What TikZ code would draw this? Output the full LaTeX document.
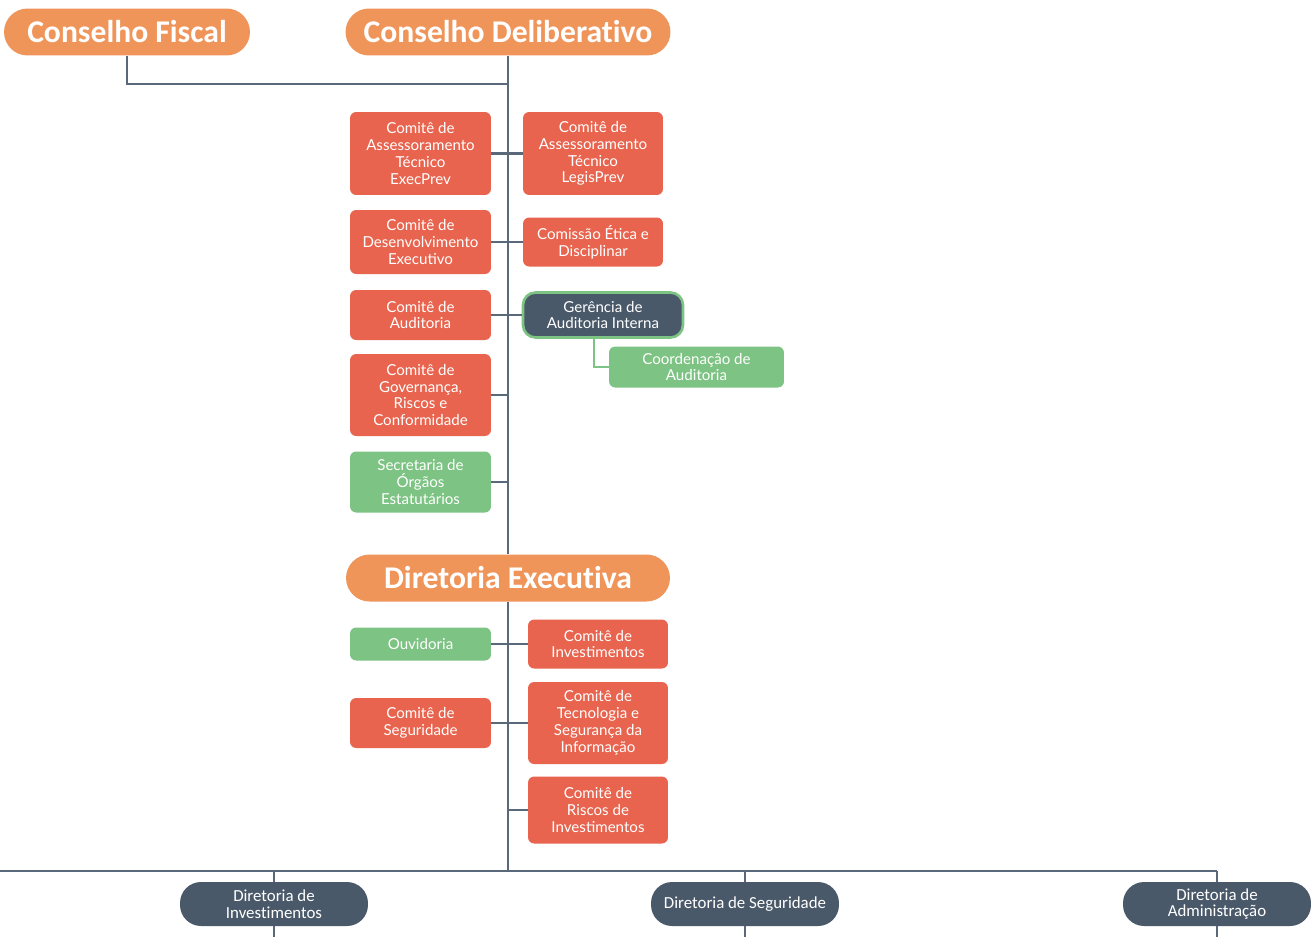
\documentclass[tikz,border=0pt]{standalone}
\usepackage{fontspec}
\setmainfont{Lato}
\newfontfamily\headfont{Carlito}[Ligatures=NoCommon]
\usetikzlibrary{positioning}
\definecolor{cfgorange}{RGB}{240,149,90}
\definecolor{cfgred}{RGB}{232,100,78}
\definecolor{cfggreen}{RGB}{125,195,131}
\definecolor{cfgslate}{RGB}{74,89,106}
\definecolor{cfgline}{RGB}{90,105,122}

\begin{document}
\begin{tikzpicture}[x=0.02cm,y=-0.02cm,
  head/.style={fill=cfgorange, text=white, rounded corners=0.47cm, minimum height=0.94cm, inner sep=0pt,
    font=\headfont\bfseries\fontsize{18}{20}\selectfont},
  com/.style={fill=cfgred, text=white, rounded corners=3.5pt, minimum width=2.82cm, align=center, inner sep=1pt,
    font=\fontsize{8.6}{9.6}\selectfont},
  sec/.style={com, fill=cfggreen},
  dir/.style={fill=cfgslate, text=white, rounded corners=0.42cm, minimum width=3.76cm, minimum height=0.88cm,
    align=center, inner sep=1pt, font=\headfont\fontsize{9.6}{9.6}\selectfont},
  link/.style={draw=cfgline, line width=1.2pt}]
\useasboundingbox (0,0) rectangle (1311,937);
% Conselhos
\node[head, minimum width=4.92cm] (cf) at (127,32) {Conselho Fiscal};
\node[head, minimum width=6.5cm] (cd) at (508,32) {Conselho Deliberativo};
% Comites do conselho
\node[com, minimum height=1.66cm] (l1) at (420.5,153.5) {Comitê de\\Assessoramento\\Técnico\\ExecPrev};
\node[com, minimum height=1.66cm, minimum width=2.8cm] (r1) at (593,153.5) {Comitê de\\Assessoramento\\Técnico\\LegisPrev};
\node[com, minimum height=1.28cm] (l2) at (420.5,242) {Comitê de\\Desenvolvimento\\Executivo};
\node[com, minimum height=0.98cm, minimum width=2.8cm] (r2) at (593,242) {Comissão Ética e\\Disciplinar};
\node[com, minimum height=1.0cm] (l3) at (420.5,315) {Comitê de\\Auditoria};
\node[com, fill=cfgslate, draw=cfggreen, line width=1.5pt, minimum height=0.9cm, minimum width=3.2cm,
  rounded corners=0.25cm] (gai) at (603,315) {Gerência de\\Auditoria Interna};
\node[sec, minimum height=0.82cm, minimum width=3.5cm] (coord) at (696.5,367) {Coordenação de\\Auditoria};
\node[com, minimum height=1.64cm] (l4) at (420.5,395) {Comitê de\\Governança,\\Riscos e\\Conformidade};
\node[sec, minimum height=1.22cm] (l5) at (420.5,482) {Secretaria de\\Órgãos\\Estatutários};
% Diretoria executiva
\node[head, minimum width=6.48cm] (de) at (508,578) {Diretoria Executiva};
\node[sec, minimum height=0.66cm] (ouv) at (420.5,644) {Ouvidoria};
\node[com, minimum height=0.98cm, minimum width=2.8cm] (ci) at (598,644) {Comitê de\\Investimentos};
\node[com, minimum height=1.0cm] (cs) at (420.5,723) {Comitê de\\Seguridade};
\node[com, minimum height=1.64cm, minimum width=2.8cm] (tec) at (598,723) {Comitê de\\Tecnologia e\\Segurança da\\Informação};
\node[com, minimum height=1.34cm, minimum width=2.8cm] (ri) at (598,810) {Comitê de\\Riscos de\\Investimentos};
% Diretorias
\node[dir] (di) at (274,904) {Diretoria de\\Investimentos};
\node[dir] (ds) at (745,904) {Diretoria de Seguridade};
\node[dir] (dad) at (1217,904) {Diretoria de\\Administração};
% Connectors
\coordinate (j) at (508,84);
\coordinate (bus) at (508,871);
\coordinate (busL) at (0,871);
\coordinate (bot) at (0,937);
\draw[link] (cf.south) |- (j);
\draw[link] (cd.south) -- (de.north);
\draw[link] (de.south) -- (bus);
\foreach \a/\b in {l1/r1, l2/r2, l3/gai, ouv/ci, cs/tec} {
  \draw[link] (\a.east) -- (\b.west);
}
\foreach \a in {l4, l5} {
  \draw[link] (\a.east) -- (\a.east -| cd.south);
}
\draw[link] (ri.west) -- (ri.west -| de.south);
\draw[draw=cfggreen, line width=1.2pt] ([xshift=-0.18cm]gai.south) |- (coord.west);
\draw[link] (busL) -- (bus -| dad.north);
\foreach \d in {di, ds, dad} {
  \draw[link] (bus -| \d.north) -- (\d.north);
  \draw[link] (\d.south) -- (\d.south |- bot);
}
\end{tikzpicture}
\end{document}
